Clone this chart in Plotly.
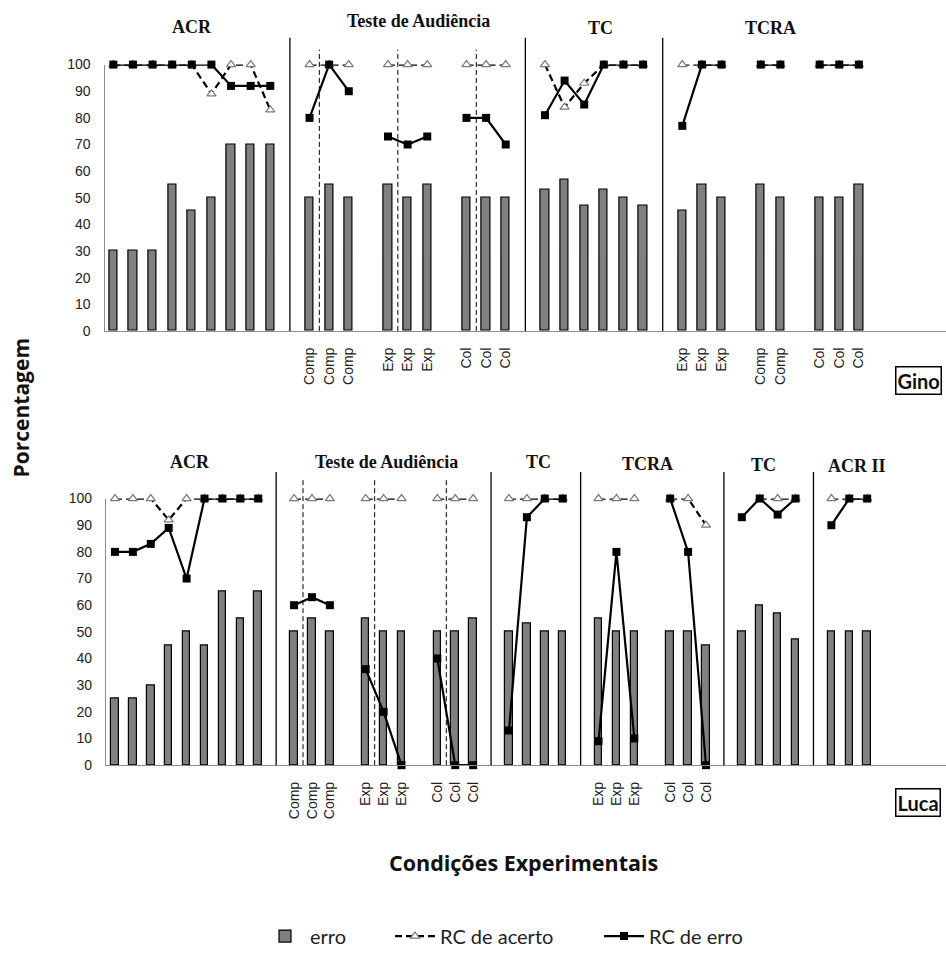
import plotly.graph_objects as go

N = None

# ---- Gino: session slots (blank label = no tick text, None value = empty slot) ----
gino_labels = ([""] * 9 + [""] + ["Comp"] * 3 + [""] + ["Exp"] * 3 + [""] + ["Col"] * 3 + [""]
               + [""] * 6 + [""] + ["Exp"] * 3 + [""] + ["Comp"] * 2 + [""] + ["Col"] * 3 + [""] * 4)
gino_erro = [30, 30, 30, 55, 45, 50, 70, 70, 70, N,
             50, 55, 50, N, 55, 50, 55, N, 50, 50, 50, N,
             53, 57, 47, 53, 50, 47, N,
             45, 55, 50, N, 55, 50, N, 50, 50, 55, N, N, N, N]
gino_rc_acerto = [100, 100, 100, 100, 100, 89, 100, 100, 83, N,
                  100, 100, 100, N, 100, 100, 100, N, 100, 100, 100, N,
                  100, 84, 93, 100, 100, 100, N,
                  100, 100, 100, N, 100, 100, N, 100, 100, 100, N, N, N, N]
gino_rc_erro = [100, 100, 100, 100, 100, 100, 92, 92, 92, N,
                80, 100, 90, N, 73, 70, 73, N, 80, 80, 70, N,
                81, 94, 85, 100, 100, 100, N,
                77, 100, 100, N, 100, 100, N, 100, 100, 100, N, N, N, N]

# ---- Luca ----
luca_labels = ([""] * 9 + [""] + ["Comp"] * 3 + [""] + ["Exp"] * 3 + [""] + ["Col"] * 3 + [""]
               + [""] * 4 + [""] + ["Exp"] * 3 + [""] + ["Col"] * 3 + [""]
               + [""] * 4 + [""] + [""] * 3 + [""] * 4)
luca_erro = [25, 25, 30, 45, 50, 45, 65, 55, 65, N,
             50, 55, 50, N, 55, 50, 50, N, 50, 50, 55, N,
             50, 53, 50, 50, N,
             55, 50, 50, N, 50, 50, 45, N,
             50, 60, 57, 47, N,
             50, 50, 50, N, N, N, N]
luca_rc_acerto = [100, 100, 100, 92, 100, 100, 100, 100, 100, N,
                  100, 100, 100, N, 100, 100, 100, N, 100, 100, 100, N,
                  100, 100, 100, 100, N,
                  100, 100, 100, N, 100, 100, 90, N,
                  N, 100, 100, 100, N,
                  100, 100, 100, N, N, N, N]
luca_rc_erro = [80, 80, 83, 89, 70, 100, 100, 100, 100, N,
                60, 63, 60, N, 36, 20, 0, N, 40, 0, 0, N,
                13, 93, 100, 100, N,
                9, 80, 10, N, 100, 80, 0, N,
                93, 100, 94, 100, N,
                90, 100, 100, N, N, N, N]

gino_titles = ["ACR", "Teste de Audiência", "TC", "TCRA"]
luca_titles = ["ACR", "Teste de Audiência", "TC", "TCRA", "TC", "ACR II"]

W, H = 946, 956


def fx(p):
    return p / W


def fy(p):
    return 1 - p / H


BAR = "#808080"
fig = go.Figure()

panels = [
    ("x", "y", gino_labels, gino_erro, gino_rc_acerto, gino_rc_erro, True),
    ("x2", "y2", luca_labels, luca_erro, luca_rc_acerto, luca_rc_erro, False),
]
for xa, ya, labels, erro, acerto, rcerro, show in panels:
    xs = list(range(len(labels)))
    fig.add_trace(go.Bar(
        x=xs, y=erro, xaxis=xa, yaxis=ya, width=0.42, name="erro",
        marker=dict(color=BAR, line=dict(color="black", width=1.2)),
        showlegend=show, legend="legend"))
    fig.add_trace(go.Scatter(
        x=xs, y=acerto, xaxis=xa, yaxis=ya, mode="lines+markers", name="RC de acerto",
        line=dict(color="black", width=2.2, dash="7px,4px"),
        marker=dict(symbol="triangle-up", size=8, color="white",
                    line=dict(color="#7a7a7a", width=1.2)),
        cliponaxis=False, showlegend=show, legend="legend2"))
    fig.add_trace(go.Scatter(
        x=xs, y=rcerro, xaxis=xa, yaxis=ya, mode="lines+markers", name="RC de erro",
        line=dict(color="black", width=2.2),
        marker=dict(symbol="square", size=8, color="black"),
        cliponaxis=False, showlegend=show, legend="legend3"))


def xaxis_cfg(labels, dom_left, rng):
    tv = [i for i, t in enumerate(labels) if t]
    tt = [labels[i] for i in tv]
    return dict(domain=[fx(dom_left), 1], range=rng, showline=True, linecolor="#8c8c8c",
                linewidth=1.2, showgrid=False, zeroline=False, tickmode="array",
                tickvals=tv, ticktext=tt, tickangle=-90, ticks="",
                ticklabelstandoff=10,
                tickfont=dict(family="Liberation Sans", size=14, color="#222"),
                automargin=False, fixedrange=True)


def yaxis_cfg(anchor, bottom, top):
    return dict(domain=[fy(bottom), fy(top)], range=[0, 100], anchor=anchor,
                tickmode="array", tickvals=list(range(0, 101, 10)),
                showline=True, linecolor="#8c8c8c", linewidth=1.2, showgrid=False,
                zeroline=False, ticks="", ticklabelstandoff=10,
                tickfont=dict(family="Liberation Sans", size=14, color="#222"),
                automargin=False, fixedrange=True)


leg_common = dict(orientation="h", xanchor="left", y=fy(942), yanchor="middle",
                  font=dict(family="Lato", size=20, color="#222"),
                  bgcolor="rgba(0,0,0,0)", itemwidth=40)

fig.update_layout(
    width=W, height=H, autosize=False,
    margin=dict(l=0, r=0, t=0, b=0),
    paper_bgcolor="white", plot_bgcolor="white",
    bargap=0,
    xaxis=dict(anchor="y", **xaxis_cfg(gino_labels, 104.5, [-0.45, 42.44])),
    yaxis=yaxis_cfg("x", 333, 65),
    xaxis2=dict(anchor="y2", **xaxis_cfg(luca_labels, 106, [-0.5, 46.4])),
    yaxis2=yaxis_cfg("x2", 770, 501.7),
    legend=dict(x=fx(260), **leg_common),
    legend2=dict(x=fx(390), **leg_common),
    legend3=dict(x=fx(599), **leg_common),
)

shapes = []
# solid separators between phases, dashed separators inside the audience test
for xr, top_solid, top_dash, base, solid, dashed in [
    ("x", 38, 50, 333, [9, 21, 28], [10.5, 14.5, 18.5]),
    ("x2", 475, 483, 770, [9, 21, 26, 34, 39], [10.5, 14.5, 18.5]),
]:
    for s in solid:
        shapes.append(dict(type="line", xref=xr, yref="paper", x0=s, x1=s,
                           y0=fy(base), y1=fy(top_solid),
                           line=dict(color="black", width=1.3)))
    for d in dashed:
        shapes.append(dict(type="line", xref=xr, yref="paper", x0=d, x1=d,
                           y0=fy(base), y1=fy(top_dash),
                           line=dict(color="black", width=1, dash="5px,3px")))
fig.update_layout(shapes=shapes)

ann = []
title_font = dict(family="Liberation Serif", size=18, color="#111")
for txt, cx, cy in zip(gino_titles, [192, 418, 600, 770], [27, 21, 28, 28]):
    ann.append(dict(text=f"<b>{txt}</b>", x=fx(cx), y=fy(cy), xref="paper", yref="paper",
                    xanchor="center", yanchor="middle", showarrow=False, font=title_font))
for txt, cx, cy in zip(luca_titles, [190, 386, 538, 647, 763, 857],
                       [465, 465, 465, 467, 468, 469]):
    ann.append(dict(text=f"<b>{txt}</b>", x=fx(cx), y=fy(cy), xref="paper", yref="paper",
                    xanchor="center", yanchor="middle", showarrow=False, font=title_font))

for name, cy in [("Gino", 383), ("Luca", 808)]:
    ann.append(dict(text=f"<b>{name}</b>", x=fx(918), y=fy(cy), xref="paper", yref="paper",
                    xanchor="center", yanchor="middle",
                    showarrow=False, bordercolor="black", borderwidth=1.5, borderpad=1,
                    bgcolor="white", font=dict(family="Lato", size=20, color="#111")))

ann.append(dict(text="<b>Porcentagem</b>", x=fx(21), y=fy(411), xref="paper", yref="paper",
                xanchor="center", yanchor="middle", showarrow=False, textangle=-90,
                font=dict(family="Open Sans", size=21, color="#111")))
ann.append(dict(text="<b>Condições Experimentais</b>", x=fx(523), y=fy(868), xref="paper",
                yref="paper", xanchor="center", yanchor="middle", showarrow=False,
                font=dict(family="Open Sans", size=21.5, color="#111")))
fig.update_layout(annotations=ann)

fig.write_html("out.html")
